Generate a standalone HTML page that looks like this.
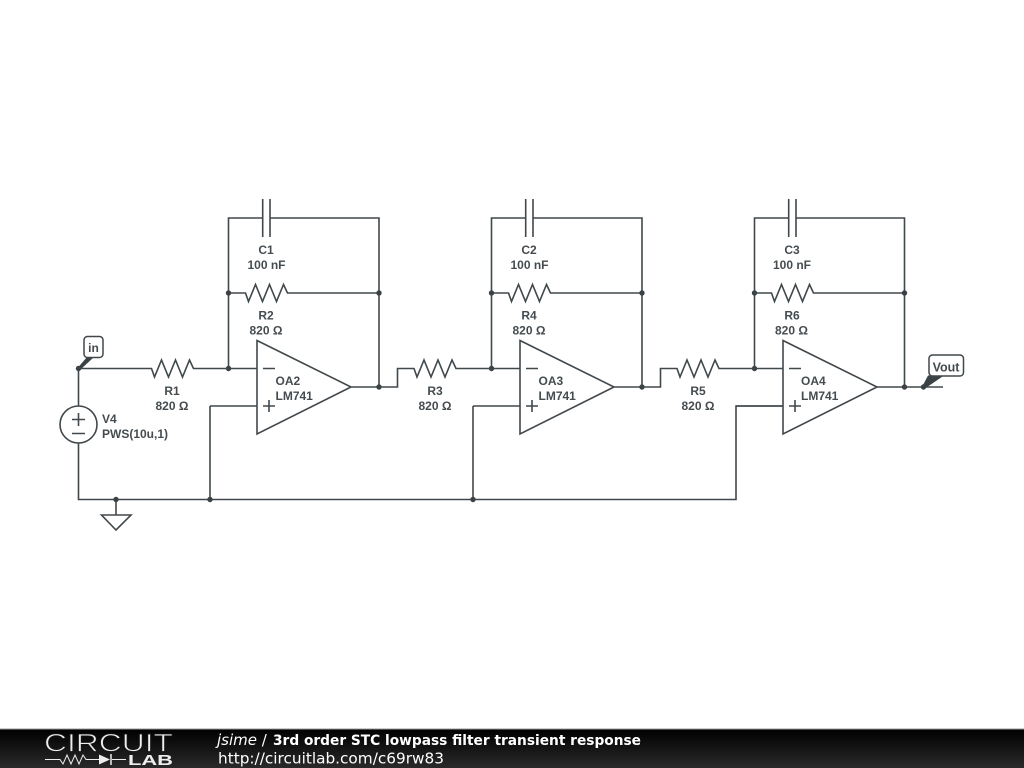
<!DOCTYPE html>
<html><head><meta charset="utf-8"><style>
html,body{margin:0;padding:0;background:#fff;width:1024px;height:768px;overflow:hidden}
svg{display:block;position:absolute;left:0;top:0;filter:blur(.3px)}
.w{fill:none;stroke:#40484c;stroke-width:1.6}
.l{font:bold 12px "Liberation Sans",sans-serif;fill:#454c50;text-anchor:middle}
.ls{font:bold 12px "Liberation Sans",sans-serif;fill:#454c50}
.d{fill:#3a4246}
</style></head><body>
<svg width="1024" height="768" viewBox="0 0 1024 768">
<defs>
<linearGradient id="g" x1="0" y1="0" x2="0" y2="1"><stop offset="0" stop-color="#000"/><stop offset="1" stop-color="#2a2a2a"/></linearGradient>
</defs>
<!-- stage 1 -->
<g>
<path class="w" d="M228.500 368.500V218H262.700M270 218H379V387M228.500 293H245.500L248.500 301.500L255.500 284.500L262.500 301.500L269.500 284.500L276.500 301.500L283.500 284.500L287.500 293H379M262.700 199V237M270 199V237"/>
<path class="w" d="M257 340.500L351 387L257 434ZM228.500 368.500H257M210 406H257M351 387H379"/>
<path class="w" d="M263 368.500H275M263 406H275M269 400V412"/>
<circle class="d" cx="228.500" cy="368.500" r="2.700"/><circle class="d" cx="228.500" cy="293" r="2.700"/><circle class="d" cx="379" cy="293" r="2.700"/><circle class="d" cx="379" cy="387" r="2.700"/>
<text class="l" x="266" y="254">C1</text><text class="l" x="266.500" y="269">100 nF</text>
<text class="l" x="266" y="319.500">R2</text><text class="l" x="266" y="334.500">820 Ω</text>
<text class="ls" x="275.500" y="385">OA2</text><text class="ls" x="275.500" y="400">LM741</text>
</g>
<!-- stage 2 -->
<g transform="translate(263,0)">
<path class="w" d="M228.500 368.500V218H262.700M270 218H379V387M228.500 293H245.500L248.500 301.500L255.500 284.500L262.500 301.500L269.500 284.500L276.500 301.500L283.500 284.500L287.500 293H379M262.700 199V237M270 199V237"/>
<path class="w" d="M257 340.500L351 387L257 434ZM228.500 368.500H257M210 406H257M351 387H379"/>
<path class="w" d="M263 368.500H275M263 406H275M269 400V412"/>
<circle class="d" cx="228.500" cy="368.500" r="2.700"/><circle class="d" cx="228.500" cy="293" r="2.700"/><circle class="d" cx="379" cy="293" r="2.700"/><circle class="d" cx="379" cy="387" r="2.700"/>
<text class="l" x="266" y="254">C2</text><text class="l" x="266.500" y="269">100 nF</text>
<text class="l" x="266" y="319.500">R4</text><text class="l" x="266" y="334.500">820 Ω</text>
<text class="ls" x="275.500" y="385">OA3</text><text class="ls" x="275.500" y="400">LM741</text>
</g>
<!-- stage 3 -->
<g transform="translate(526,0)">
<path class="w" d="M228.500 368.500V218H262.700M270 218H378.500V387M228.500 293H245.500L248.500 301.500L255.500 284.500L262.500 301.500L269.500 284.500L276.500 301.500L283.500 284.500L287.500 293H378.500M262.700 199V237M270 199V237"/>
<path class="w" d="M257 340.500L351 387L257 434ZM228.500 368.500H257M210 406H257M351 387H379"/>
<path class="w" d="M263 368.500H275M263 406H275M269 400V412"/>
<circle class="d" cx="228.500" cy="368.500" r="2.700"/><circle class="d" cx="228.500" cy="293" r="2.700"/><circle class="d" cx="378.500" cy="293" r="2.700"/><circle class="d" cx="378.500" cy="387" r="2.700"/>
<text class="l" x="266" y="254">C3</text><text class="l" x="266" y="269">100 nF</text>
<text class="l" x="266" y="319.500">R6</text><text class="l" x="265.500" y="334.500">820 Ω</text>
<text class="ls" x="275" y="385">OA4</text><text class="ls" x="275" y="400">LM741</text>
</g>
<!-- input, R1 -->
<path class="w" d="M78.500 406V368.500H151.500L154.500 377L161.500 360L168.500 377L175.500 360L182.500 377L189.500 360L193.500 368.500H228.500"/>
<!-- R3, R5 links -->
<path class="w" d="M379 387H397.500V368.500H414L417 377L424 360L431 377L438 360L445 377L452 360L456 368.500H491.500"/>
<path class="w" d="M642 387H660.500V368.500H677L680 377L687 360L694 377L701 360L708 377L715 360L719 368.500H754.500"/>
<text class="l" x="172" y="395">R1</text><text class="l" x="172" y="410">820 Ω</text>
<text class="l" x="435" y="395">R3</text><text class="l" x="435" y="410">820 Ω</text>
<text class="l" x="698" y="395">R5</text><text class="l" x="698" y="410">820 Ω</text>
<!-- source -->
<circle class="w" cx="78.500" cy="424.500" r="18.500"/>
<path class="w" d="M72 419.500H85M78.500 413V426M72 433.500H85M78.500 443V499.500H736V406H783M116 499.500V515M101.500 515H131L116 530ZM210 406V499.500M473 406V499.500"/>
<circle class="d" cx="116" cy="499.500" r="2.700"/><circle class="d" cx="210" cy="499.500" r="2.700"/><circle class="d" cx="473" cy="499.500" r="2.700"/>
<text class="ls" x="102" y="423">V4</text><text class="ls" x="102" y="438">PWS(10u,1)</text>
<!-- in label -->
<circle class="d" cx="78.500" cy="368.500" r="2.700"/>
<path class="d" d="M78 367.500L87 357H94L80 370Z"/>
<rect x="84" y="336.500" width="19" height="21" rx="3.500" fill="#fff" stroke="#40484c" stroke-width="1.500"/>
<text class="l" x="93.500" y="352">in</text>
<!-- vout -->
<path class="w" d="M904.500 387H943"/>
<circle class="d" cx="923.500" cy="387" r="2.700"/>
<path class="d" d="M922.500 386L928 375.500H944L925 388.500Z"/>
<rect x="929" y="355" width="34.500" height="21" rx="3.500" fill="#fff" stroke="#40484c" stroke-width="1.500"/>
<text class="l" x="946" y="371.500" style="font-size:12.500px">Vout</text>
<!-- footer -->
<rect x="0" y="729" width="1024" height="39" fill="url(#g)"/>
<rect x="0" y="728.500" width="1024" height="1" fill="#999"/>
<text x="44" y="751.500" font-family="Liberation Sans,sans-serif" font-size="25" textLength="129" lengthAdjust="spacingAndGlyphs" fill="#eee" stroke="#151515" stroke-width="0.800">CIRCUIT</text>
<path d="M45 759.500H60L63 764L67 755L71 764L75 755L79 764L83 755L86 759.500H99M112 759.500H126" fill="none" stroke="#eee" stroke-width="1"/>
<path d="M99 754.500L110 759.500L99 764.500Z" fill="#eee"/><path d="M111 754V765" stroke="#eee" stroke-width="1.500"/>
<text x="128" y="765" font-family="Liberation Sans,sans-serif" font-weight="bold" font-size="15" textLength="45" lengthAdjust="spacingAndGlyphs" fill="#eee">LAB</text>
<text x="217" y="745" font-family="DejaVu Sans,sans-serif" font-size="15" fill="#fff"><tspan font-style="italic">jsime</tspan> /</text>
<text x="273" y="745" font-family="DejaVu Sans,sans-serif" font-size="14" font-weight="bold" fill="#fff" textLength="368" lengthAdjust="spacingAndGlyphs">3rd order STC lowpass filter transient response</text>
<text x="218" y="763.500" font-family="DejaVu Sans,sans-serif" font-size="15.300" fill="#fff">http://circuitlab.com/c69rw83</text>
</svg>
</body></html>
